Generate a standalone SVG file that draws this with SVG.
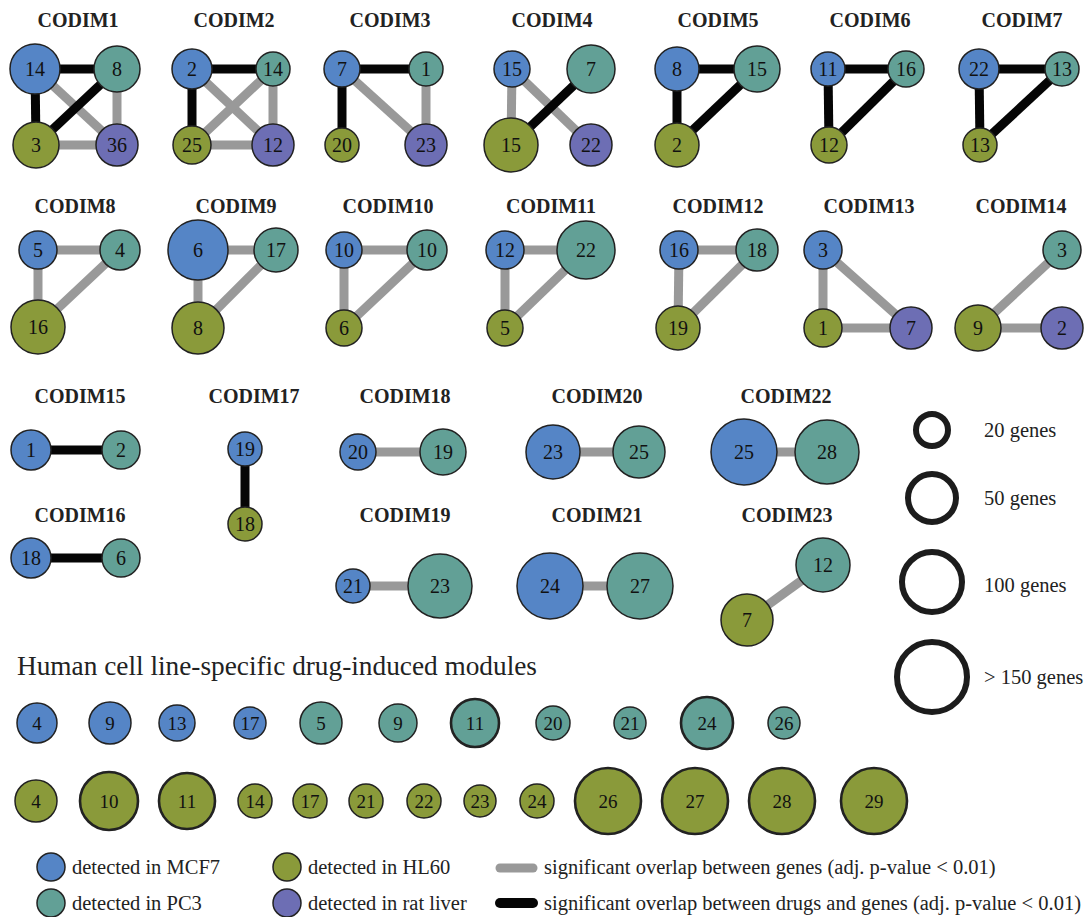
<svg xmlns="http://www.w3.org/2000/svg" width="1086" height="917" viewBox="0 0 1086 917">
<style>
.ttl{font-family:"Liberation Serif",serif;font-weight:bold;font-size:20px;fill:#222;text-anchor:middle}
.lbl{font-family:"Liberation Serif",serif;font-size:20px;fill:#111;text-anchor:middle;dominant-baseline:central}
.sl{font-size:19px}
.leg{font-family:"Liberation Serif",serif;font-size:20.5px;fill:#222}
.hd{font-family:"Liberation Serif",serif;font-size:27.3px;fill:#222}
circle{stroke:#222;stroke-width:1.5}
.b{fill:#5585C6}.t{fill:#62A096}.o{fill:#8A9A3A}.p{fill:#6D6EB4}
.th{stroke-width:2.6}
.g{stroke:#999;stroke-width:9}
.k{stroke:#050505;stroke-width:9}
.ring{fill:none;stroke:#1c1c1c;stroke-width:6}
.cap{stroke-linecap:round}
</style>
<rect width="1086" height="917" fill="#fff"/>
<g id="titles">
<text class="ttl" x="78" y="27">CODIM1</text>
<text class="ttl" x="234" y="27">CODIM2</text>
<text class="ttl" x="390" y="27">CODIM3</text>
<text class="ttl" x="552" y="27">CODIM4</text>
<text class="ttl" x="718" y="27">CODIM5</text>
<text class="ttl" x="870" y="27">CODIM6</text>
<text class="ttl" x="1022" y="27">CODIM7</text>
<text class="ttl" x="75" y="213">CODIM8</text>
<text class="ttl" x="236" y="213">CODIM9</text>
<text class="ttl" x="388" y="213">CODIM10</text>
<text class="ttl" x="551" y="213">CODIM11</text>
<text class="ttl" x="718" y="213">CODIM12</text>
<text class="ttl" x="869" y="213">CODIM13</text>
<text class="ttl" x="1021" y="213">CODIM14</text>
<text class="ttl" x="80" y="403">CODIM15</text>
<text class="ttl" x="254" y="403">CODIM17</text>
<text class="ttl" x="405" y="403">CODIM18</text>
<text class="ttl" x="597" y="403">CODIM20</text>
<text class="ttl" x="786" y="403">CODIM22</text>
<text class="ttl" x="80" y="522">CODIM16</text>
<text class="ttl" x="405" y="522">CODIM19</text>
<text class="ttl" x="597" y="522">CODIM21</text>
<text class="ttl" x="787" y="522">CODIM23</text>
</g>
<g id="connectors">
<line class="g" x1="35" y1="69" x2="117" y2="145"/>
<line class="g" x1="117" y1="69" x2="117" y2="145"/>
<line class="g" x1="36" y1="145" x2="117" y2="145"/>
<line class="k" x1="35" y1="69" x2="117" y2="69"/>
<line class="k" x1="35" y1="69" x2="36" y2="145"/>
<line class="k" x1="36" y1="145" x2="117" y2="69"/>
<line class="g" x1="192" y1="69" x2="273" y2="145"/>
<line class="g" x1="273" y1="69" x2="192" y2="145"/>
<line class="g" x1="273" y1="69" x2="273" y2="145"/>
<line class="g" x1="192" y1="145" x2="273" y2="145"/>
<line class="k" x1="192" y1="69" x2="273" y2="69"/>
<line class="k" x1="192" y1="69" x2="192" y2="145"/>
<line class="g" x1="342" y1="69" x2="426" y2="145"/>
<line class="g" x1="426" y1="69" x2="426" y2="145"/>
<line class="k" x1="342" y1="69" x2="426" y2="69"/>
<line class="k" x1="342" y1="69" x2="342" y2="145"/>
<line class="g" x1="512" y1="69" x2="511" y2="145"/>
<line class="g" x1="512" y1="69" x2="591" y2="145"/>
<line class="k" x1="591" y1="69" x2="511" y2="145"/>
<line class="k" x1="677" y1="69" x2="757" y2="69"/>
<line class="k" x1="677" y1="69" x2="677" y2="145"/>
<line class="k" x1="757" y1="69" x2="677" y2="145"/>
<line class="k" x1="828" y1="69" x2="906" y2="69"/>
<line class="k" x1="828" y1="69" x2="829" y2="145"/>
<line class="k" x1="906" y1="69" x2="829" y2="145"/>
<line class="k" x1="979" y1="69" x2="1062" y2="69"/>
<line class="k" x1="979" y1="69" x2="980" y2="145"/>
<line class="k" x1="1062" y1="69" x2="980" y2="145"/>
<line class="g" x1="38" y1="250" x2="120" y2="250"/>
<line class="g" x1="38" y1="250" x2="38" y2="327"/>
<line class="g" x1="120" y1="250" x2="38" y2="327"/>
<line class="g" x1="198" y1="250" x2="276" y2="250"/>
<line class="g" x1="198" y1="250" x2="198" y2="328"/>
<line class="g" x1="276" y1="250" x2="198" y2="328"/>
<line class="g" x1="344" y1="250" x2="427" y2="250"/>
<line class="g" x1="344" y1="250" x2="344" y2="328"/>
<line class="g" x1="427" y1="250" x2="344" y2="328"/>
<line class="g" x1="505" y1="250" x2="586" y2="250"/>
<line class="g" x1="505" y1="250" x2="505" y2="328"/>
<line class="g" x1="586" y1="250" x2="505" y2="328"/>
<line class="g" x1="679" y1="250" x2="757" y2="250"/>
<line class="g" x1="679" y1="250" x2="678" y2="328"/>
<line class="g" x1="757" y1="250" x2="678" y2="328"/>
<line class="g" x1="823" y1="250" x2="823" y2="328"/>
<line class="g" x1="823" y1="250" x2="911" y2="328"/>
<line class="g" x1="823" y1="328" x2="911" y2="328"/>
<line class="g" x1="1062" y1="250" x2="978" y2="328"/>
<line class="g" x1="978" y1="328" x2="1062" y2="328"/>
<line class="k" x1="31" y1="450" x2="121" y2="450"/>
<line class="k" x1="31" y1="558" x2="121" y2="558"/>
<line class="k" x1="245" y1="449" x2="245" y2="524"/>
<line class="g" x1="358" y1="452" x2="443" y2="452"/>
<line class="g" x1="353" y1="586" x2="440" y2="586"/>
<line class="g" x1="553" y1="452" x2="639" y2="452"/>
<line class="g" x1="550" y1="586" x2="640" y2="586"/>
<line class="g" x1="744" y1="452" x2="827" y2="452"/>
<line class="g" x1="823" y1="565" x2="747" y2="620"/>
</g>
<g id="nodes">
<g id="c1-mcf7"><circle class="b" cx="35" cy="69" r="25"/><text class="lbl" x="35" y="69">14</text></g>
<g id="c1-pc3"><circle class="t" cx="117" cy="69" r="23"/><text class="lbl" x="117" y="69">8</text></g>
<g id="c1-hl60"><circle class="o" cx="36" cy="145" r="23"/><text class="lbl" x="36" y="145">3</text></g>
<g id="c1-rat"><circle class="p" cx="117" cy="145" r="21"/><text class="lbl" x="117" y="145">36</text></g>
<g id="c2-mcf7"><circle class="b" cx="192" cy="69" r="20"/><text class="lbl" x="192" y="69">2</text></g>
<g id="c2-pc3"><circle class="t" cx="273" cy="69" r="17"/><text class="lbl" x="273" y="69">14</text></g>
<g id="c2-hl60"><circle class="o" cx="192" cy="145" r="19"/><text class="lbl" x="192" y="145">25</text></g>
<g id="c2-rat"><circle class="p" cx="273" cy="145" r="21"/><text class="lbl" x="273" y="145">12</text></g>
<g id="c3-mcf7"><circle class="b" cx="342" cy="69" r="18"/><text class="lbl" x="342" y="69">7</text></g>
<g id="c3-pc3"><circle class="t" cx="426" cy="69" r="17"/><text class="lbl" x="426" y="69">1</text></g>
<g id="c3-hl60"><circle class="o" cx="342" cy="145" r="17"/><text class="lbl" x="342" y="145">20</text></g>
<g id="c3-rat"><circle class="p" cx="426" cy="145" r="21"/><text class="lbl" x="426" y="145">23</text></g>
<g id="c4-mcf7"><circle class="b" cx="512" cy="69" r="18"/><text class="lbl" x="512" y="69">15</text></g>
<g id="c4-pc3"><circle class="t" cx="591" cy="69" r="24"/><text class="lbl" x="591" y="69">7</text></g>
<g id="c4-hl60"><circle class="o" cx="511" cy="145" r="27"/><text class="lbl" x="511" y="145">15</text></g>
<g id="c4-rat"><circle class="p" cx="591" cy="145" r="21"/><text class="lbl" x="591" y="145">22</text></g>
<g id="c5-mcf7"><circle class="b" cx="677" cy="69" r="22"/><text class="lbl" x="677" y="69">8</text></g>
<g id="c5-pc3"><circle class="t" cx="757" cy="69" r="23"/><text class="lbl" x="757" y="69">15</text></g>
<g id="c5-hl60"><circle class="o" cx="677" cy="145" r="22"/><text class="lbl" x="677" y="145">2</text></g>
<g id="c6-mcf7"><circle class="b" cx="828" cy="69" r="17"/><text class="lbl" x="828" y="69">11</text></g>
<g id="c6-pc3"><circle class="t" cx="906" cy="69" r="18"/><text class="lbl" x="906" y="69">16</text></g>
<g id="c6-hl60"><circle class="o" cx="829" cy="145" r="18"/><text class="lbl" x="829" y="145">12</text></g>
<g id="c7-mcf7"><circle class="b" cx="979" cy="69" r="20"/><text class="lbl" x="979" y="69">22</text></g>
<g id="c7-pc3"><circle class="t" cx="1062" cy="69" r="17"/><text class="lbl" x="1062" y="69">13</text></g>
<g id="c7-hl60"><circle class="o" cx="980" cy="145" r="17"/><text class="lbl" x="980" y="145">13</text></g>
<g id="c8-mcf7"><circle class="b" cx="38" cy="250" r="19"/><text class="lbl" x="38" y="250">5</text></g>
<g id="c8-pc3"><circle class="t" cx="120" cy="250" r="20"/><text class="lbl" x="120" y="250">4</text></g>
<g id="c8-hl60"><circle class="o" cx="38" cy="327" r="27"/><text class="lbl" x="38" y="327">16</text></g>
<g id="c9-mcf7"><circle class="b" cx="198" cy="250" r="30"/><text class="lbl" x="198" y="250">6</text></g>
<g id="c9-pc3"><circle class="t" cx="276" cy="250" r="22"/><text class="lbl" x="276" y="250">17</text></g>
<g id="c9-hl60"><circle class="o" cx="198" cy="328" r="26"/><text class="lbl" x="198" y="328">8</text></g>
<g id="c10-mcf7"><circle class="b" cx="344" cy="250" r="18"/><text class="lbl" x="344" y="250">10</text></g>
<g id="c10-pc3"><circle class="t" cx="427" cy="250" r="20"/><text class="lbl" x="427" y="250">10</text></g>
<g id="c10-hl60"><circle class="o" cx="344" cy="328" r="18"/><text class="lbl" x="344" y="328">6</text></g>
<g id="c11-mcf7"><circle class="b" cx="505" cy="250" r="19"/><text class="lbl" x="505" y="250">12</text></g>
<g id="c11-pc3"><circle class="t" cx="586" cy="250" r="29"/><text class="lbl" x="586" y="250">22</text></g>
<g id="c11-hl60"><circle class="o" cx="505" cy="328" r="18"/><text class="lbl" x="505" y="328">5</text></g>
<g id="c12-mcf7"><circle class="b" cx="679" cy="250" r="19"/><text class="lbl" x="679" y="250">16</text></g>
<g id="c12-pc3"><circle class="t" cx="757" cy="250" r="21"/><text class="lbl" x="757" y="250">18</text></g>
<g id="c12-hl60"><circle class="o" cx="678" cy="328" r="22"/><text class="lbl" x="678" y="328">19</text></g>
<g id="c13-mcf7"><circle class="b" cx="823" cy="250" r="19"/><text class="lbl" x="823" y="250">3</text></g>
<g id="c13-hl60"><circle class="o" cx="823" cy="328" r="19"/><text class="lbl" x="823" y="328">1</text></g>
<g id="c13-rat"><circle class="p" cx="911" cy="328" r="21"/><text class="lbl" x="911" y="328">7</text></g>
<g id="c14-pc3"><circle class="t" cx="1062" cy="250" r="19"/><text class="lbl" x="1062" y="250">3</text></g>
<g id="c14-hl60"><circle class="o" cx="978" cy="328" r="23"/><text class="lbl" x="978" y="328">9</text></g>
<g id="c14-rat"><circle class="p" cx="1062" cy="328" r="21"/><text class="lbl" x="1062" y="328">2</text></g>
<g id="c15-mcf7"><circle class="b" cx="31" cy="450" r="20"/><text class="lbl" x="31" y="450">1</text></g>
<g id="c15-pc3"><circle class="t" cx="121" cy="450" r="19"/><text class="lbl" x="121" y="450">2</text></g>
<g id="c16-mcf7"><circle class="b" cx="31" cy="558" r="20"/><text class="lbl" x="31" y="558">18</text></g>
<g id="c16-pc3"><circle class="t" cx="121" cy="558" r="19"/><text class="lbl" x="121" y="558">6</text></g>
<g id="c17-mcf7"><circle class="b" cx="245" cy="449" r="17"/><text class="lbl" x="245" y="449">19</text></g>
<g id="c17-hl60"><circle class="o" cx="245" cy="524" r="17"/><text class="lbl" x="245" y="524">18</text></g>
<g id="c18-mcf7"><circle class="b" cx="358" cy="452" r="18"/><text class="lbl" x="358" y="452">20</text></g>
<g id="c18-pc3"><circle class="t" cx="443" cy="452" r="23"/><text class="lbl" x="443" y="452">19</text></g>
<g id="c19-mcf7"><circle class="b" cx="353" cy="586" r="17"/><text class="lbl" x="353" y="586">21</text></g>
<g id="c19-pc3"><circle class="t" cx="440" cy="586" r="32"/><text class="lbl" x="440" y="586">23</text></g>
<g id="c20-mcf7"><circle class="b" cx="553" cy="452" r="27"/><text class="lbl" x="553" y="452">23</text></g>
<g id="c20-pc3"><circle class="t" cx="639" cy="452" r="26"/><text class="lbl" x="639" y="452">25</text></g>
<g id="c21-mcf7"><circle class="b" cx="550" cy="586" r="33"/><text class="lbl" x="550" y="586">24</text></g>
<g id="c21-pc3"><circle class="t" cx="640" cy="586" r="33"/><text class="lbl" x="640" y="586">27</text></g>
<g id="c22-mcf7"><circle class="b" cx="744" cy="452" r="33"/><text class="lbl" x="744" y="452">25</text></g>
<g id="c22-pc3"><circle class="t" cx="827" cy="452" r="32"/><text class="lbl" x="827" y="452">28</text></g>
<g id="c23-pc3"><circle class="t" cx="823" cy="565" r="27"/><text class="lbl" x="823" y="565">12</text></g>
<g id="c23-hl60"><circle class="o" cx="747" cy="620" r="26"/><text class="lbl" x="747" y="620">7</text></g>
</g>
<g id="size-legend">
<circle class="ring" cx="932" cy="430" r="16"/>
<text class="leg" x="984" y="437">20 genes</text>
<circle class="ring" cx="932" cy="498" r="24"/>
<text class="leg" x="984" y="505">50 genes</text>
<circle class="ring" cx="932" cy="582" r="30"/>
<text class="leg" x="984" y="592">100 genes</text>
<circle class="ring" cx="932" cy="677" r="35"/>
<text class="leg" x="984" y="684">&gt; 150 genes</text>
</g>
<text class="hd" x="17" y="675">Human cell line-specific drug-induced modules</text>
<g id="specific-modules">
<g id="s-mcf7-4"><circle class="b" cx="37" cy="723" r="20"/><text class="lbl sl" x="37" y="723">4</text></g>
<g id="s-mcf7-9"><circle class="b" cx="110" cy="723" r="21"/><text class="lbl sl" x="110" y="723">9</text></g>
<g id="s-mcf7-13"><circle class="b" cx="177" cy="723" r="18"/><text class="lbl sl" x="177" y="723">13</text></g>
<g id="s-mcf7-17"><circle class="b" cx="250" cy="723" r="16"/><text class="lbl sl" x="250" y="723">17</text></g>
<g id="s-pc3-5"><circle class="t" cx="321" cy="723" r="21"/><text class="lbl sl" x="321" y="723">5</text></g>
<g id="s-pc3-9"><circle class="t" cx="398" cy="723" r="19"/><text class="lbl sl" x="398" y="723">9</text></g>
<g id="s-pc3-11"><circle class="t th" cx="475" cy="723" r="24"/><text class="lbl sl" x="475" y="723">11</text></g>
<g id="s-pc3-20"><circle class="t" cx="553" cy="723" r="17"/><text class="lbl sl" x="553" y="723">20</text></g>
<g id="s-pc3-21"><circle class="t" cx="630" cy="723" r="16"/><text class="lbl sl" x="630" y="723">21</text></g>
<g id="s-pc3-24"><circle class="t th" cx="707" cy="723" r="26"/><text class="lbl sl" x="707" y="723">24</text></g>
<g id="s-pc3-26"><circle class="t" cx="784" cy="723" r="16"/><text class="lbl sl" x="784" y="723">26</text></g>
<g id="s-hl60-4"><circle class="o" cx="36" cy="801" r="21"/><text class="lbl sl" x="36" y="801">4</text></g>
<g id="s-hl60-10"><circle class="o th" cx="109" cy="801" r="29"/><text class="lbl sl" x="109" y="801">10</text></g>
<g id="s-hl60-11"><circle class="o th" cx="187" cy="801" r="28"/><text class="lbl sl" x="187" y="801">11</text></g>
<g id="s-hl60-14"><circle class="o" cx="255" cy="801" r="17"/><text class="lbl sl" x="255" y="801">14</text></g>
<g id="s-hl60-17"><circle class="o" cx="310" cy="801" r="17"/><text class="lbl sl" x="310" y="801">17</text></g>
<g id="s-hl60-21"><circle class="o" cx="366" cy="801" r="17"/><text class="lbl sl" x="366" y="801">21</text></g>
<g id="s-hl60-22"><circle class="o" cx="424" cy="801" r="17"/><text class="lbl sl" x="424" y="801">22</text></g>
<g id="s-hl60-23"><circle class="o" cx="480" cy="801" r="16"/><text class="lbl sl" x="480" y="801">23</text></g>
<g id="s-hl60-24"><circle class="o" cx="537" cy="801" r="17"/><text class="lbl sl" x="537" y="801">24</text></g>
<g id="s-hl60-26"><circle class="o th" cx="608" cy="801" r="33"/><text class="lbl sl" x="608" y="801">26</text></g>
<g id="s-hl60-27"><circle class="o th" cx="695" cy="801" r="33"/><text class="lbl sl" x="695" y="801">27</text></g>
<g id="s-hl60-28"><circle class="o th" cx="782" cy="801" r="33"/><text class="lbl sl" x="782" y="801">28</text></g>
<g id="s-hl60-29"><circle class="o th" cx="874" cy="801" r="33"/><text class="lbl sl" x="874" y="801">29</text></g>
</g>
<g id="legend">
<circle class="b" cx="51" cy="867" r="14"/>
<text class="leg" x="72" y="874">detected in MCF7</text>
<circle class="t" cx="51" cy="903" r="14"/>
<text class="leg" x="72" y="910">detected in PC3</text>
<circle class="o" cx="287" cy="867" r="14"/>
<text class="leg" x="308" y="874">detected in HL60</text>
<circle class="p" cx="287" cy="903" r="14"/>
<text class="leg" x="308" y="910">detected in rat liver</text>
<line class="g cap" x1="500" y1="868" x2="533" y2="868"/>
<text class="leg" x="544" y="874">significant overlap between genes (adj. p-value &lt; 0.01)</text>
<line class="k cap" x1="500" y1="903" x2="533" y2="903" style="stroke-width:10"/>
<text class="leg" x="544" y="910">significant overlap between drugs and genes (adj. p-value &lt; 0.01)</text>
</g>
</svg>
